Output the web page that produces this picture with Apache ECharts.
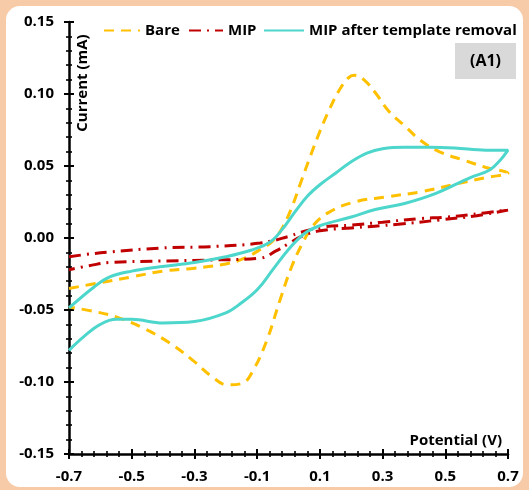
<!DOCTYPE html>
<html>
<head>
<meta charset="utf-8">
<script src="https://cdn.jsdelivr.net/npm/echarts@6/dist/echarts.min.js"></script>
<style>
  html, body { margin: 0; padding: 0; background: #f7caa8; }
  #chart { width: 529px; height: 490px; }
</style>
</head>
<body>
<div id="chart"></div>
<script>
// Cyclic voltammograms: potential (V) vs current (mA)

// Bare electrode: anodic sweep (-0.7 -> 0.7 V)
const bareForwardV = [-0.70, -0.60, -0.50, -0.40, -0.30, -0.20, -0.14, -0.09, -0.05, -0.02,
  0.01, 0.04, 0.07, 0.10, 0.13, 0.16, 0.19, 0.21, 0.24, 0.28,
  0.32, 0.37, 0.42, 0.48, 0.56, 0.63, 0.70];
const bareForwardI = [-0.035, -0.031, -0.027, -0.023, -0.021, -0.018, -0.014, -0.008, -0.002, 0.007,
  0.021, 0.039, 0.057, 0.074, 0.089, 0.102, 0.111, 0.113, 0.110, 0.100,
  0.088, 0.078, 0.068, 0.060, 0.054, 0.049, 0.045];
// Bare electrode: cathodic sweep (0.7 -> -0.7 V)
const bareReverseV = [0.70, 0.63, 0.525, 0.42, 0.31, 0.21, 0.13, 0.08, 0.045, 0.01,
  -0.027, -0.069, -0.113, -0.148, -0.196, -0.24, -0.305, -0.378, -0.464, -0.547, -0.62, -0.70];
const bareReverseI = [0.045, 0.042, 0.037, 0.032, 0.0285, 0.025, 0.018, 0.009, -0.0035, -0.020,
  -0.043, -0.071, -0.092, -0.101, -0.102, -0.097, -0.085, -0.073, -0.0625, -0.055, -0.051, -0.048];

// MIP-modified electrode
const mipForwardV = [-0.70, -0.63, -0.57, -0.41, -0.25, -0.09, 0.00, 0.04, 0.11, 0.20, 0.30, 0.42, 0.50, 0.59, 0.70];
const mipForwardI = [-0.013, -0.011, -0.0097, -0.007, -0.006, -0.0035, 0.001, 0.004, 0.0076, 0.009, 0.011, 0.0135, 0.0145, 0.0165, 0.0195];
const mipReverseV = [0.70, 0.60, 0.48, 0.35, 0.20, 0.10, 0.04, 0.00, -0.04, -0.09, -0.25, -0.41, -0.57, -0.63, -0.70];
const mipReverseI = [0.0195, 0.0155, 0.0125, 0.0095, 0.007, 0.005, 0.001, -0.004, -0.009, -0.014, -0.0153, -0.016, -0.017, -0.019, -0.022];

// MIP after template removal
const remForwardV = [-0.70, -0.62, -0.57, -0.50, -0.41, -0.30, -0.20, -0.12, -0.06, -0.02,
  0.02, 0.06, 0.10, 0.15, 0.20, 0.25, 0.30, 0.37, 0.45, 0.53, 0.63, 0.70];
const remForwardI = [-0.0486, -0.034, -0.027, -0.023, -0.020, -0.017, -0.013, -0.0085, -0.003, 0.006,
  0.018, 0.029, 0.037, 0.045, 0.053, 0.059, 0.062, 0.063, 0.063, 0.0625, 0.061, 0.061];
const remReverseV = [0.70, 0.675, 0.64, 0.58, 0.47, 0.37, 0.28, 0.20, 0.10, 0.05, 0.00,
  -0.05, -0.10, -0.15, -0.20, -0.30, -0.40, -0.50, -0.55, -0.60, -0.65, -0.70];
const remReverseI = [0.061, 0.054, 0.047, 0.042, 0.031, 0.024, 0.020, 0.0146, 0.0085, 0.003, -0.008,
  -0.022, -0.036, -0.045, -0.052, -0.058, -0.059, -0.0565, -0.0565, -0.060, -0.068, -0.078];

// Axis ticks
const xMin = -0.7, xMax = 0.7, xStep = 0.2;
const xTickLabels = ['-0.7', '-0.5', '-0.3', '-0.1', '0.1', '0.3', '0.5', '0.7'];
const yMin = -0.15, yMax = 0.15, yStep = 0.05;
const yTickLabels = ['-0.15', '-0.10', '-0.05', '0.00', '0.05', '0.10', '0.15'];

const seriesNames = ['Bare', 'MIP', 'MIP after template removal'];

function loop(fv, fi, rv, ri) {
  const pts = [];
  fv.forEach((v, k) => pts.push([v, fi[k]]));
  rv.forEach((v, k) => pts.push([v, ri[k]]));
  return pts;
}

const FONT = '"Open Sans", "DejaVu Sans", sans-serif';
const labelStyle = { color: '#000', fontFamily: FONT, fontWeight: 'bold', fontSize: 15 };

function xAxisDef(inside, showLabel) {
  return {
    type: 'value', min: xMin, max: xMax, interval: xStep, position: 'bottom',
    axisLine: { show: !inside, onZero: false, lineStyle: { color: '#000', width: 2.5 } },
    axisTick: { show: true, inside: inside, length: 5, lineStyle: { color: '#000', width: 2 } },
    minorTick: { show: true, splitNumber: 5, length: 3, lineStyle: { color: '#000', width: 1.6 } },
    splitLine: { show: false },
    axisLabel: {
      show: showLabel, margin: 15, ...labelStyle,
      formatter: v => xTickLabels[Math.round((v - xMin) / xStep)] || ''
    }
  };
}
function yAxisDef(inside, showLabel) {
  return {
    type: 'value', min: yMin, max: yMax, interval: yStep, position: 'left',
    axisLine: { show: !inside, onZero: false, lineStyle: { color: '#000', width: 2.5 } },
    axisTick: { show: true, inside: inside, length: 5, lineStyle: { color: '#000', width: 2 } },
    minorTick: { show: true, splitNumber: 5, length: 3, lineStyle: { color: '#000', width: 1.6 } },
    splitLine: { show: false },
    axisLabel: {
      show: showLabel, margin: 15, ...labelStyle,
      formatter: v => yTickLabels[Math.round((v - yMin) / yStep)] || ''
    }
  };
}

function legendDef(name, left, width) {
  return {
    data: [name], left: left, top: 18, itemWidth: width, itemHeight: 14, itemGap: 0,
    itemStyle: { opacity: 0 },
    textStyle: { color: '#000', fontFamily: FONT, fontWeight: 'bold', fontSize: 15 }
  };
}

const chart = echarts.init(document.getElementById('chart'), null, { renderer: 'canvas' });
chart.setOption({
  backgroundColor: '#f7caa8',
  animation: false,
  grid: { left: 69, right: 21, top: 22, bottom: 36 },
  xAxis: [xAxisDef(false, true), xAxisDef(true, false)],
  yAxis: [yAxisDef(false, true), yAxisDef(true, false)],
  legend: [
    legendDef(seriesNames[0], 98, 36),
    legendDef(seriesNames[1], 183, 34),
    legendDef(seriesNames[2], 258, 40)
  ],
  graphic: [
    { type: 'rect', z: -100, silent: true,
      shape: { x: 6, y: 6, width: 517, height: 481, r: 14 },
      style: { fill: '#ffffff' } },
    { type: 'rect', z: 10, shape: { x: 455, y: 43, width: 61, height: 36 }, style: { fill: '#d9d9d9' } },
    { type: 'text', z: 11, x: 485.5, y: 61,
      style: { text: '(A1)', fill: '#000', font: 'bold 16px ' + FONT, textAlign: 'center', textVerticalAlign: 'middle' } },
    { type: 'text', z: 11, x: 83, y: 83, rotation: Math.PI / 2,
      style: { text: 'Current (mA)', fill: '#000', font: 'bold 15px ' + FONT, textAlign: 'center', textVerticalAlign: 'middle' } },
    { type: 'text', z: 11, x: 502, y: 441,
      style: { text: 'Potential (V)', fill: '#000', font: 'bold 15px ' + FONT, textAlign: 'right', textVerticalAlign: 'middle' } }
  ],
  series: [
    {
      name: seriesNames[0], type: 'line', symbol: 'none', smooth: 0.4,
      data: loop(bareForwardV, bareForwardI, bareReverseV, bareReverseI),
      itemStyle: { color: '#ffc000' },
      lineStyle: { color: '#ffc000', width: 3, type: [10, 7] }
    },
    {
      name: seriesNames[1], type: 'line', symbol: 'none', smooth: 0.4,
      data: loop(mipForwardV, mipForwardI, mipReverseV, mipReverseI),
      itemStyle: { color: '#c00000' },
      lineStyle: { color: '#c00000', width: 3, type: [12, 6, 2, 6] }
    },
    {
      name: seriesNames[2], type: 'line', symbol: 'none', smooth: 0.4,
      data: loop(remForwardV, remForwardI, remReverseV, remReverseI),
      itemStyle: { color: '#4dd6cb' },
      lineStyle: { color: '#4dd6cb', width: 3 }
    }
  ]
});
</script>
</body>
</html>
